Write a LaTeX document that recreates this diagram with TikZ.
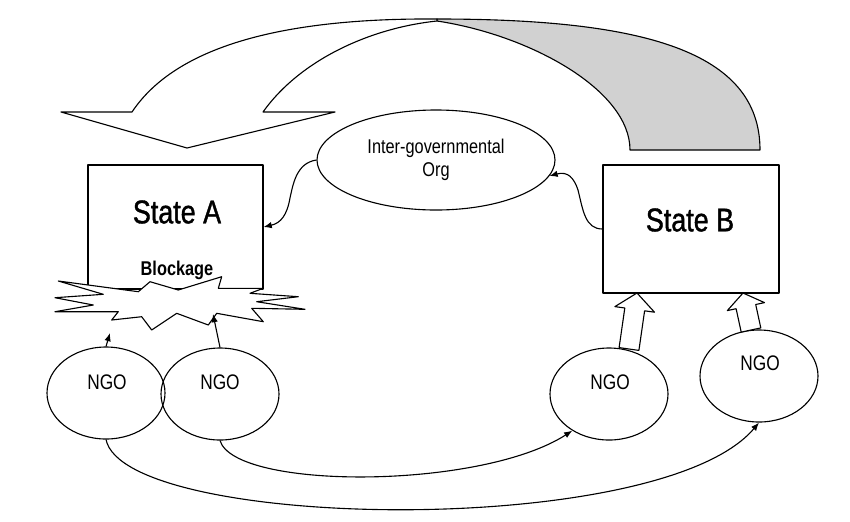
\documentclass[tikz,border=0pt]{standalone}
\usepackage{fontspec}
\setmainfont{Liberation Sans}[FakeStretch=0.82]
\newfontface\heavyface{Liberation Sans}[FakeStretch=0.82, FakeBold=1.2]
\usetikzlibrary{arrows.meta,shapes.geometric}
\begin{document}
\begin{tikzpicture}[x=0.03cm,y=-0.03cm, line width=0.95pt, line join=round,
  stbox/.style={draw, rectangle, inner sep=0pt, minimum width=#1},
  ngo/.style={draw, ellipse, minimum width=3.54cm, minimum height=2.76cm, inner sep=0pt},
  lbl/.style={inner sep=0pt, font=\fontsize{18}{20}\selectfont},
  big/.style={inner sep=0pt, font=\heavyface\fontsize{28}{30}\selectfont},
  conn/.style={-{Latex[length=7pt,width=5.5pt]}},
  blockarrow/.style={draw, fill=white, line width=0.95pt},
  ribbon/.style={draw, line width=0.95pt}]
\useasboundingbox (0,0) rectangle (850,521);

% big curved arrow: grey back part
\fill[ribbon, fill=black!18] (437,19) .. controls (640,19) and (760,50) .. (760,150)
  -- (630,150) .. controls (630,90) and (530,35) .. (437,21) -- cycle;
% white front part
\filldraw[ribbon, fill=white] (437,19) .. controls (300,18) and (180,40) .. (132,112)
  -- (61,112) -- (187,148) -- (335,112) -- (263,112)
  .. controls (300,60) and (370,28) .. (437,21) -- cycle;

% states
\node[stbox=5.25cm, minimum height=3.72cm] (sa) at (175.5,227) {};
\node[stbox=5.28cm, minimum height=3.84cm] (sb) at (691,229) {};
\node[big] (sat) at (177,212) {State A};
\node[big] (sbt) at (690,220) {State B};

% blockage starburst
\filldraw[ribbon, fill=white] (58.3,281) -- (138.3,291.7) -- (150,281.7) -- (178.3,290)
  -- (221.7,276.7) -- (218.3,288.3) -- (263.3,288.3) -- (250,293.3) -- (298.3,296.7)
  -- (256.7,301.7) -- (305,309.3) -- (251.7,308.3) -- (263.3,321.7) -- (216.7,313.3)
  -- (208.3,325) -- (176.7,313.3) -- (151.7,330) -- (141.7,316.7) -- (111.7,320)
  -- (118.3,311.7) -- (55,311.7) -- (93.3,305) -- (55,297.7) -- (103.3,294.3) -- cycle;
\node[inner sep=0pt, anchor=base, font=\bfseries\fontsize{17}{19}\selectfont] (blk) at (177,275) {Blockage};
\coordinate (b1) at (110,333);
\coordinate (b2) at (213,314);

% inter-governmental organisation
\node[draw, ellipse, minimum width=7.14cm, minimum height=3cm, inner sep=0pt] (igo) at (436,160) {};
\node[inner sep=0pt, anchor=base, font=\fontsize{17}{19}\selectfont] (igot1) at (436,153) {Inter-governmental};
\node[inner sep=0pt, anchor=base, font=\fontsize{17}{19}\selectfont] (igot2) at (436,176) {Org};

% NGOs
\node[ngo] (ngo1) at (106,393) {};
\node[ngo] (ngo2) at (220,394) {};
\node[ngo] (ngo3) at (609,394) {};
\node[ngo] (ngo4) at (759,376) {};
\node[lbl] (n1t) at (107,382) {NGO};
\node[lbl] (n2t) at (220,382) {NGO};
\node[lbl] (n3t) at (610,382) {NGO};
\node[lbl] (n4t) at (760,363) {NGO};

% connectors
\coordinate (m1) at (290,198);
\draw[conn] (igo.west) .. controls (296,163) and (293,185) .. (m1)
  .. controls (287,215) and (281,223) .. (sa.east);
\coordinate (m2) at (578,190);
\draw[conn] (sb.west) .. controls (585,229) and (583,210) .. (m2)
  .. controls (574,178) and (568,171) .. (igo.-8);
\draw[conn] (ngo1.north) -- (b1);
\draw[conn] (ngo2.north) -- (b2);
\draw[conn] (ngo1.south) .. controls (125,530) and (660,540) .. (ngo4.south);
\draw[conn] (ngo2.south) .. controls (235,490) and (480,490) .. (ngo3.-135);

% hollow block arrows from NGOs to State B
\filldraw[blockarrow] (619.1,347.6) -- (624.8,308) -- (614.9,306.6) -- (637,293)
  -- (654.5,312.2) -- (644.6,310.8) -- (638.9,350.4) -- cycle;
\filldraw[blockarrow] (741.2,332.1) -- (736.1,308.7) -- (727.3,310.6) -- (743,293)
  -- (764.5,302.6) -- (755.7,304.5) -- (760.8,327.9) -- cycle;
\end{tikzpicture}
\end{document}
